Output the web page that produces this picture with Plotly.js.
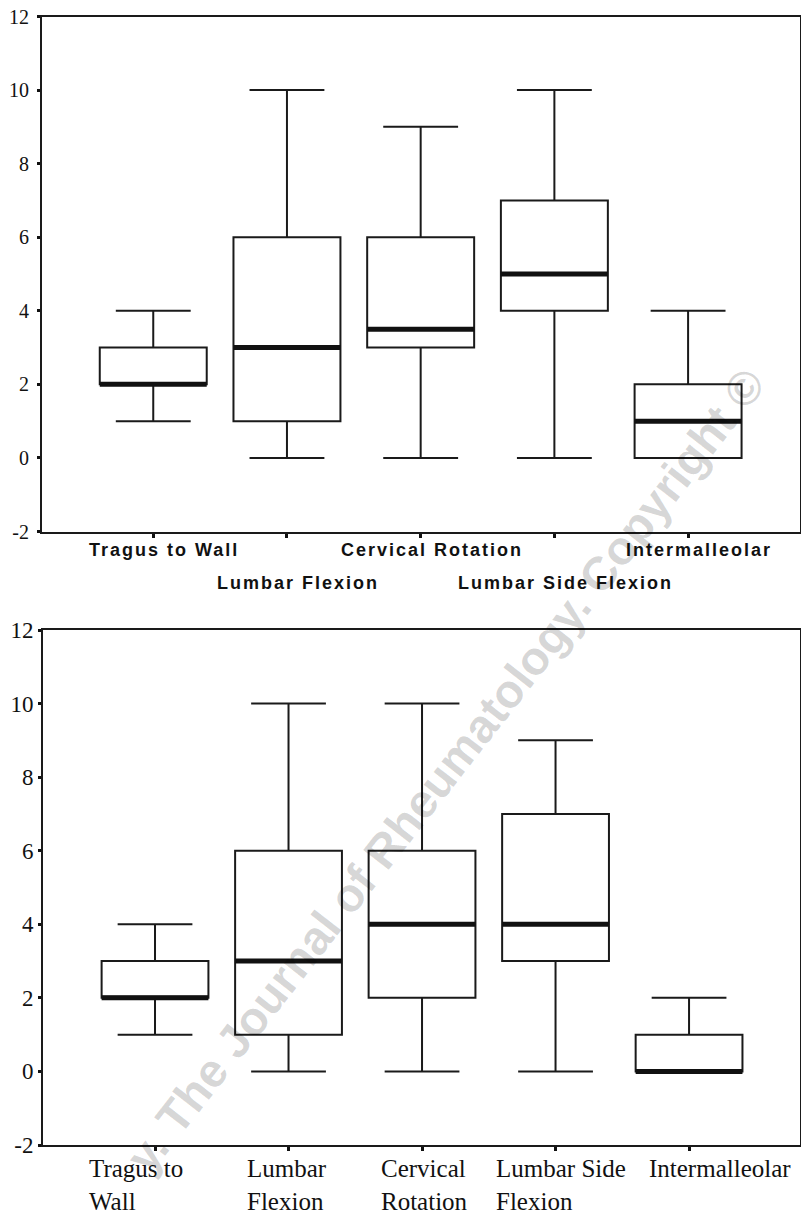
<!DOCTYPE html>
<html>
<head>
<meta charset="utf-8">
<script src="https://cdn.plot.ly/plotly-3.0.1.min.js"></script>
<style>
html,body{margin:0;padding:0;background:#fff;}
#chart{width:801px;height:1218px;}
</style>
</head>
<body>
<div id="chart"></div>
<script>
// ---- data ----
const categories = ["Tragus to Wall", "Lumbar Flexion", "Cervical Rotation", "Lumbar Side Flexion", "Intermalleolar"];
const topLabels = ["Tragus to Wall", "Lumbar Flexion", "Cervical Rotation", "Lumbar Side Flexion", "Intermalleolar"];
const bottomLabels = ["Tragus to<br>Wall", "Lumbar<br>Flexion", "Cervical<br>Rotation", "Lumbar Side<br>Flexion", "Intermalleolar"];

const topMin    = [1, 0, 0,   0, 0];
const topQ1     = [2, 1, 3,   4, 0];
const topMedian = [2, 3, 3.5, 5, 1];
const topQ3     = [3, 6, 6,   7, 2];
const topMax    = [4, 10, 9,  10, 4];

const botMin    = [1, 0, 0,  0, 0];
const botQ1     = [2, 1, 2,  3, 0];
const botMedian = [2, 3, 4,  4, 0];
const botQ3     = [3, 6, 6,  7, 1];
const botMax    = [4, 10, 10, 9, 2];

const yTicks = [-2, 0, 2, 4, 6, 8, 10, 12];
const yTickText = ["-2", "0", "2", "4", "6", "8", "10", "12"];
const watermark = "y. The Journal of Rheumatology. Copyright ©";

// ---- helpers ----
const pos = categories.map((c, i) => i);
function boxTrace(xa, ya, lo, q1, med, q3, hi) {
  return {
    type: 'box', x: pos, q1: q1, median: med, q3: q3,
    lowerfence: lo, upperfence: hi,
    xaxis: xa, yaxis: ya, width: 0.8, whiskerwidth: 0.7,
    fillcolor: 'rgba(0,0,0,0)', line: {color: '#1a1a1a', width: 2},
    boxpoints: false, hoverinfo: 'skip', showlegend: false
  };
}
function medianTrace(xa, ya, med) {
  return {
    type: 'box', x: pos, q1: med, median: med, q3: med,
    lowerfence: med, upperfence: med,
    xaxis: xa, yaxis: ya, width: 0.8, whiskerwidth: 0,
    fillcolor: 'rgba(0,0,0,0)', line: {color: '#111', width: 5},
    boxpoints: false, hoverinfo: 'skip', showlegend: false
  };
}

const data = [
  boxTrace('x', 'y', topMin, topQ1, topMedian, topQ3, topMax),
  medianTrace('x', 'y', topMedian),
  boxTrace('x2', 'y2', botMin, botQ1, botMedian, botQ3, botMax),
  medianTrace('x2', 'y2', botMedian)
];

const H = 1218, W = 801;
const serif = '"Liberation Serif", "Times New Roman", serif';
const axisCommon = {
  showline: true, linecolor: '#1a1a1a', linewidth: 2, mirror: true,
  showgrid: false, zeroline: false, ticks: 'outside', tickcolor: '#111',
  fixedrange: true
};

const annotations = [];
topLabels.forEach((t, i) => {
  annotations.push({
    text: t, x: i, xref: 'x', y: 0, yref: 'y domain',
    xanchor: 'center', yanchor: 'top', showarrow: false,
    xshift: 11, yshift: (i % 2 === 0) ? -6 : -39,
    font: {family: '"Liberation Sans Narrow", "Liberation Sans", Arial, sans-serif', size: 18, color: '#111', weight: 'bold'}
  });
});
const botShift = [-19, -2, 2, 5, 31];
bottomLabels.forEach((t, i) => {
  annotations.push({
    text: t, x: i, xref: 'x2', y: 0, yref: 'y2 domain',
    xanchor: 'center', yanchor: 'top', align: 'left', showarrow: false,
    xshift: botShift[i], yshift: -8,
    font: {family: serif, size: 25, color: '#111'}
  });
});
annotations.push({
  text: watermark, x: 445 / W, y: 1 - 770 / H, xref: 'paper', yref: 'paper',
  xanchor: 'center', yanchor: 'middle', showarrow: false, textangle: -52,
  font: {family: '"Liberation Sans", Arial, sans-serif', size: 47, color: 'rgba(0,0,0,0.17)', weight: 'bold'}
});

const layout = {
  width: W, height: H,
  margin: {l: 0, r: 0, t: 0, b: 0},
  paper_bgcolor: '#fff', plot_bgcolor: '#fff',
  font: {family: serif, color: '#111'},
  showlegend: false, boxmode: 'overlay',
  xaxis: Object.assign({}, axisCommon, {
    domain: [42 / W, 800 / W], range: [-0.832, 4.837], anchor: 'y',
    tickvals: pos, showticklabels: false, ticklen: 4, tickwidth: 3
  }),
  yaxis: Object.assign({}, axisCommon, {
    domain: [1 - 531.5 / H, 1 - 16.5 / H], range: [-2, 12], anchor: 'x',
    tickmode: 'array', tickvals: yTicks, ticktext: yTickText, ticklen: 3, tickwidth: 3, ticklabelstandoff: 4,
    tickfont: {family: serif, size: 20, color: '#111'}
  }),
  xaxis2: Object.assign({}, axisCommon, {
    domain: [43 / W, 800 / W], range: [-0.839, 4.831], anchor: 'y2',
    tickvals: pos, showticklabels: false, ticklen: 4, tickwidth: 3
  }),
  yaxis2: Object.assign({}, axisCommon, {
    domain: [1 - 1145 / H, 1 - 630 / H], range: [-2, 12], anchor: 'x2',
    tickmode: 'array', tickvals: yTicks, ticktext: yTickText, ticklen: 3, tickwidth: 3,
    tickfont: {family: serif, size: 23, color: '#111'}
  }),
  annotations: annotations
};

Plotly.newPlot('chart', data, layout, {staticPlot: true, displayModeBar: false}).then(() => {
  for (let i = 0; i < topLabels.length; i++) {
    document.querySelectorAll('g.annotation[data-index="' + i + '"] text').forEach(el => {
      el.style.letterSpacing = '2px';
    });
  }
});
</script>
</body>
</html>
